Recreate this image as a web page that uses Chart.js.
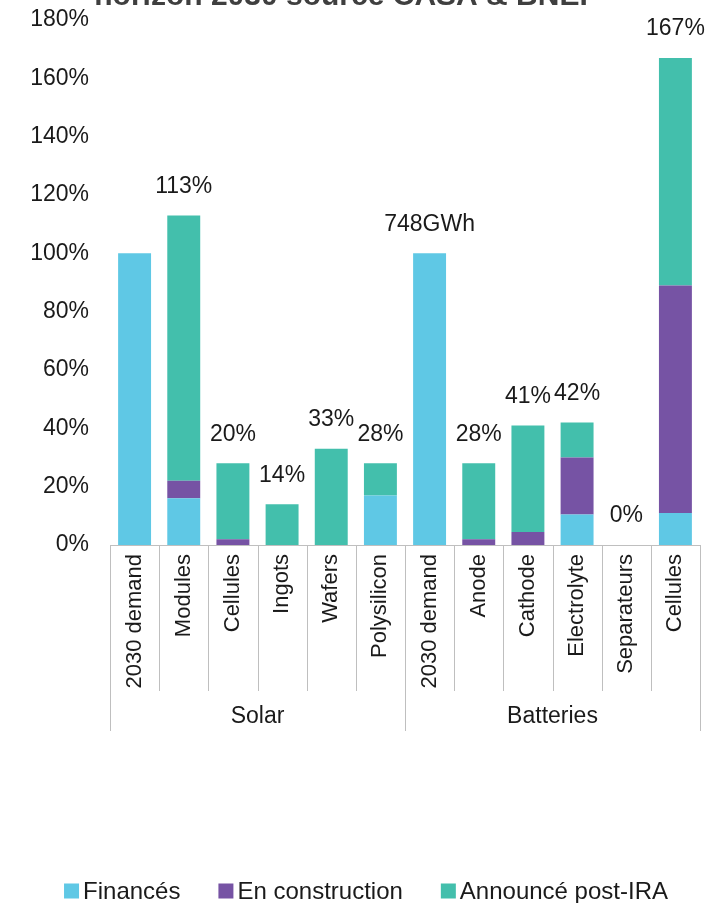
<!DOCTYPE html>
<html>
<head>
<meta charset="utf-8">
<title>Capacités US vs demande 2030</title>
<script src="https://cdn.jsdelivr.net/npm/chart.js@4.4.0/dist/chart.umd.min.js"></script>
<style>
  html, body { margin: 0; padding: 0; background: #fff; overflow: hidden; }
</style>
</head>
<body>
<canvas id="capacity" width="712" height="903"></canvas>
<script>
const categories = ['2030 demand', 'Modules', 'Cellules', 'Ingots', 'Wafers', 'Polysilicon',
  '2030 demand', 'Anode', 'Cathode', 'Electrolyte', 'Separateurs', 'Cellules'];
const groups = ['Solar', 'Batteries'];
const groupSize = 6;

// share of 2030 demand, in %
const finances = [100, 16, 0, 0, 0, 17, 100, 0, 0, 10.5, 0, 11];
const enConstruction = [0, 6, 2, 0, 0, 0, 0, 2, 4.5, 19.5, 0, 78];
const annoncePostIRA = [0, 91, 26, 14, 33, 11, 0, 26, 36.5, 12, 0, 78];
const totalLabels = ['', '113%', '20%', '14%', '33%', '28%', '748GWh', '28%', '41%', '42%', '0%', '167%'];

const titleText = 'horizon 2030 source CASA & BNEF';
const fontFamily = '"Liberation Sans", Arial, sans-serif';
const textColor = '#1a1a1a';
const lineColor = '#bfbfbf';

Chart.defaults.font.family = fontFamily;

// title line sits partly above the canvas edge
const topTitle = {
  id: 'topTitle',
  afterDraw(chart) {
    const ctx = chart.ctx;
    ctx.save();
    ctx.font = 'bold 30px ' + fontFamily;
    ctx.fillStyle = '#3f3f3f';
    ctx.textAlign = 'center';
    ctx.textBaseline = 'alphabetic';
    ctx.fillText(titleText, 346, 5);
    ctx.restore();
  },
};

// totals written over each stack
const stackLabels = {
  id: 'stackLabels',
  afterDatasetsDraw(chart) {
    const ctx = chart.ctx;
    const x = chart.scales.x;
    const y = chart.scales.y;
    ctx.save();
    ctx.font = '23px ' + fontFamily;
    ctx.fillStyle = textColor;
    ctx.textAlign = 'center';
    ctx.textBaseline = 'middle';
    for (let i = 0; i < categories.length; i++) {
      let total = 0;
      chart.data.datasets.forEach((ds) => { total += ds.data[i]; });
      ctx.fillText(totalLabels[i], x.getPixelForValue(i), y.getPixelForValue(total) - 29);
    }
    ctx.restore();
  },
};

// category separators and the Solar / Batteries row
const axisGroups = {
  id: 'axisGroups',
  afterDraw(chart) {
    const ctx = chart.ctx;
    const x = chart.scales.x;
    const bottom = chart.chartArea.bottom;
    const step = (x.right - x.left) / categories.length;
    ctx.save();
    ctx.strokeStyle = lineColor;
    ctx.lineWidth = 1;
    for (let i = 0; i <= categories.length; i++) {
      const px = Math.round(x.left + i * step) + 0.5;
      const len = i % groupSize === 0 ? 186 : 146;
      ctx.beginPath();
      ctx.moveTo(px, bottom);
      ctx.lineTo(px, bottom + len);
      ctx.stroke();
    }
    ctx.font = '23px ' + fontFamily;
    ctx.fillStyle = textColor;
    ctx.textAlign = 'center';
    ctx.textBaseline = 'middle';
    groups.forEach((g, k) => {
      const cx = x.left + (k * groupSize + groupSize / 2) * step;
      ctx.fillText(g, cx, bottom + 172);
    });
    ctx.restore();
  },
};

// legend row at the foot of the canvas, square swatch tight against its text
const footLegend = {
  id: 'footLegend',
  afterDraw(chart) {
    const ctx = chart.ctx;
    const box = 15;
    const gap = 4;
    const spacing = 38;
    const cy = 891;
    ctx.save();
    ctx.font = '24px ' + fontFamily;
    ctx.textBaseline = 'middle';
    ctx.textAlign = 'left';
    const items = chart.data.datasets.map((ds) => ({
      text: ds.label,
      color: ds.backgroundColor,
      w: ctx.measureText(ds.label).width,
    }));
    let total = 0;
    items.forEach((it, i) => { total += box + gap + it.w + (i > 0 ? spacing : 0); });
    let px = 366 - total / 2;
    items.forEach((it) => {
      ctx.fillStyle = it.color;
      ctx.fillRect(px, cy - box / 2, box, box);
      ctx.fillStyle = textColor;
      ctx.fillText(it.text, px + box + gap, cy + 1);
      px += box + gap + it.w + spacing;
    });
    ctx.restore();
  },
};

const ctx = document.getElementById('capacity').getContext('2d');

const capacityChart = new Chart(ctx, {
  type: 'bar',
  data: {
    labels: categories,
    datasets: [
      { label: 'Financés', data: finances, backgroundColor: '#5fc8e5' },
      { label: 'En construction', data: enConstruction, backgroundColor: '#7653a4' },
      { label: 'Announcé post-IRA', data: annoncePostIRA, backgroundColor: '#43bfac' },
    ],
  },
  options: {
    responsive: false,
    maintainAspectRatio: false,
    devicePixelRatio: 1,
    animation: false,
    layout: { padding: { top: 20, right: 12, bottom: 0, left: 0 } },
    datasets: {
      bar: { categoryPercentage: 1, barPercentage: 0.67, borderWidth: 0 },
    },
    scales: {
      x: {
        stacked: true,
        grid: { display: false, drawTicks: false },
        border: { display: true, color: lineColor, width: 1 },
        ticks: {
          autoSkip: false,
          minRotation: 90,
          maxRotation: 90,
          padding: 9,
          color: textColor,
          font: { size: 22 },
        },
        afterFit: (scale) => { scale.height = 358; },
      },
      y: {
        stacked: true,
        min: 0,
        max: 180,
        grid: { display: false, drawTicks: false },
        border: { display: false },
        ticks: {
          stepSize: 20,
          padding: 21,
          color: textColor,
          font: { size: 23 },
          callback: (v) => v + '%',
        },
        afterFit: (scale) => {
          scale.width = 110;
          // top tick may reach above the plot, it has room up to the canvas edge
          scale.paddingTop = 0;
        },
      },
    },
    plugins: {
      legend: { display: false },
      tooltip: { enabled: false },
    },
  },
  plugins: [topTitle, stackLabels, axisGroups, footLegend],
});
</script>
</body>
</html>
